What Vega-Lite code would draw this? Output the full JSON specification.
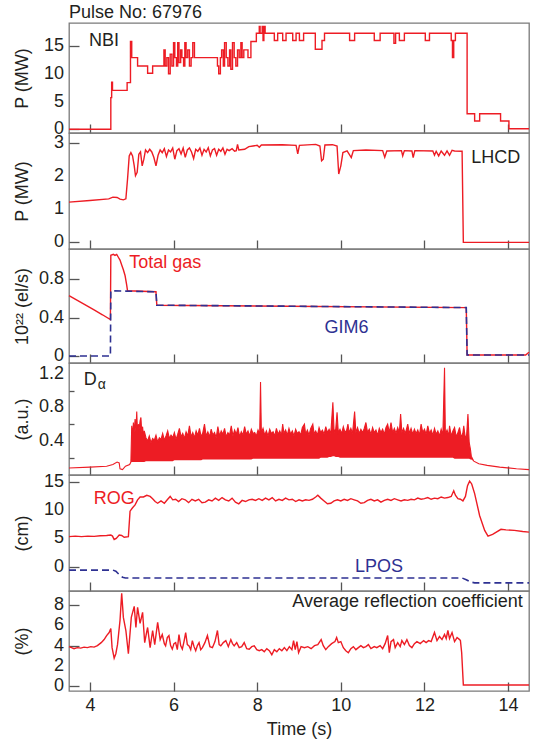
{
 "$schema": "https://vega.github.io/schema/vega-lite/v6.json",
 "padding": {"left": 12, "top": 4, "right": 6, "bottom": 4},
 "title": {"text": "Pulse No: 67976", "anchor": "start", "frame": "group", "fontSize": 18, "font": "Liberation Sans", "fontWeight": "normal", "color": "#231f20", "offset": 0},
 "spacing": 0,
 "bounds": "flush",
 "datasets": {
  "nbi": [
   {"t":3.5,"p":0},{"t":4.5,"p":5.7},{"t":4.52,"p":8.5},{"t":4.54,"p":7.0},{"t":4.89,"p":8.4},{"t":4.97,"p":15.8},{"t":5.0,"p":12.9},{"t":5.14,"p":11.4},{"t":5.38,"p":10.1},{"t":5.5,"p":11.4},
   {"t":5.77,"p":14.3},{"t":5.8,"p":11.4},{"t":5.84,"p":12.9},{"t":5.88,"p":10.0},{"t":5.92,"p":13.5},{"t":5.96,"p":11.4},{"t":6.0,"p":15.6},{"t":6.03,"p":12.9},{"t":6.07,"p":11.4},{"t":6.1,"p":15.6},
   {"t":6.13,"p":12.0},{"t":6.17,"p":14.3},{"t":6.2,"p":12.9},{"t":6.24,"p":11.4},{"t":6.27,"p":15.6},{"t":6.3,"p":12.9},{"t":6.34,"p":14.3},{"t":6.38,"p":11.4},{"t":6.42,"p":12.9},{"t":6.46,"p":15.6},
   {"t":6.5,"p":12.9},{"t":7.05,"p":11.4},{"t":7.08,"p":10.0},{"t":7.12,"p":12.9},{"t":7.15,"p":14.3},{"t":7.19,"p":11.4},{"t":7.22,"p":15.6},{"t":7.26,"p":12.9},{"t":7.3,"p":11.4},{"t":7.34,"p":14.3},
   {"t":7.37,"p":10.8},{"t":7.41,"p":15.6},{"t":7.45,"p":12.9},{"t":7.49,"p":11.4},{"t":7.53,"p":14.3},{"t":7.57,"p":12.9},{"t":7.61,"p":15.6},{"t":7.64,"p":12.9},{"t":7.68,"p":14.3},{"t":7.78,"p":12.9},
   {"t":7.85,"p":15.8},{"t":7.98,"p":17.3},{"t":8.05,"p":18.5},{"t":8.07,"p":17.3},{"t":8.12,"p":18.5},{"t":8.14,"p":16.0},{"t":8.16,"p":18.5},{"t":8.19,"p":17.3},{"t":8.41,"p":16.0},{"t":8.49,"p":17.3},
   {"t":8.61,"p":16.0},{"t":8.69,"p":17.3},{"t":8.85,"p":16.0},{"t":8.93,"p":17.3},{"t":9.01,"p":16.0},{"t":9.11,"p":17.3},{"t":9.39,"p":14.4},{"t":9.55,"p":16.0},{"t":9.61,"p":17.3},{"t":10.21,"p":16.0},
   {"t":10.33,"p":17.3},{"t":10.8,"p":16.0},{"t":10.94,"p":17.3},{"t":11.27,"p":15.5},{"t":11.31,"p":17.3},{"t":11.4,"p":16.0},{"t":11.52,"p":17.3},{"t":12.02,"p":16.0},{"t":12.12,"p":17.3},{"t":12.64,"p":16.0},
   {"t":12.67,"p":12.9},{"t":12.7,"p":16.0},{"t":12.74,"p":17.3},{"t":13.02,"p":2.8},{"t":13.2,"p":1.5},{"t":13.32,"p":2.8},{"t":13.82,"p":1.5},{"t":14.02,"p":0.1},{"t":14.5,"p":0.1}
  ],
  "lhcd": [
   {"t":3.5,"p":1.2},{"t":4.0,"p":1.25},{"t":4.45,"p":1.3},{"t":4.55,"p":1.35},{"t":4.65,"p":1.34},{"t":4.72,"p":1.29},{"t":4.8,"p":1.27},{"t":4.86,"p":1.3},{"t":4.9,"p":1.9},{"t":4.94,"p":2.6},
   {"t":4.98,"p":2.7},{"t":5.02,"p":2.6},{"t":5.06,"p":2.3},{"t":5.09,"p":2.0},{"t":5.13,"p":2.1},{"t":5.17,"p":2.65},{"t":5.21,"p":2.72},{"t":5.25,"p":2.3},{"t":5.29,"p":2.5},{"t":5.33,"p":2.78},
   {"t":5.38,"p":2.7},{"t":5.43,"p":2.8},{"t":5.48,"p":2.72},{"t":5.53,"p":2.55},{"t":5.58,"p":2.3},{"t":5.63,"p":2.62},{"t":5.68,"p":2.78},{"t":5.73,"p":2.7},{"t":5.78,"p":2.82},{"t":5.83,"p":2.58},
   {"t":5.88,"p":2.78},{"t":5.93,"p":2.72},{"t":5.98,"p":2.84},{"t":6.03,"p":2.5},{"t":6.08,"p":2.76},{"t":6.13,"p":2.82},{"t":6.18,"p":2.66},{"t":6.23,"p":2.84},{"t":6.28,"p":2.56},{"t":6.33,"p":2.78},
   {"t":6.38,"p":2.84},{"t":6.43,"p":2.72},{"t":6.48,"p":2.52},{"t":6.53,"p":2.8},{"t":6.58,"p":2.74},{"t":6.63,"p":2.84},{"t":6.68,"p":2.62},{"t":6.73,"p":2.8},{"t":6.78,"p":2.72},{"t":6.83,"p":2.85},
   {"t":6.88,"p":2.6},{"t":6.93,"p":2.78},{"t":6.98,"p":2.82},{"t":7.03,"p":2.62},{"t":7.08,"p":2.8},{"t":7.13,"p":2.74},{"t":7.18,"p":2.84},{"t":7.23,"p":2.65},{"t":7.28,"p":2.8},{"t":7.33,"p":2.76},
   {"t":7.4,"p":2.82},{"t":7.46,"p":2.74},{"t":7.5,"p":2.76},{"t":7.53,"p":2.95},{"t":7.56,"p":2.78},{"t":7.7,"p":2.8},{"t":7.8,"p":2.88},{"t":7.9,"p":2.9},{"t":8.0,"p":2.92},{"t":8.05,"p":2.86},
   {"t":8.1,"p":2.93},{"t":8.6,"p":2.94},{"t":8.93,"p":2.92},{"t":8.97,"p":2.66},{"t":9.01,"p":2.92},{"t":9.4,"p":2.95},{"t":9.5,"p":2.9},{"t":9.54,"p":2.45},{"t":9.58,"p":2.5},{"t":9.62,"p":2.93},
   {"t":9.8,"p":2.94},{"t":9.91,"p":2.9},{"t":9.95,"p":2.05},{"t":10.0,"p":2.3},{"t":10.05,"p":2.7},{"t":10.15,"p":2.75},{"t":10.25,"p":2.55},{"t":10.3,"p":2.76},{"t":10.6,"p":2.78},{"t":11.0,"p":2.76},
   {"t":11.05,"p":2.56},{"t":11.1,"p":2.75},{"t":11.45,"p":2.76},{"t":11.48,"p":2.6},{"t":11.52,"p":2.76},{"t":11.7,"p":2.75},{"t":11.73,"p":2.55},{"t":11.77,"p":2.76},{"t":12.2,"p":2.75},{"t":12.24,"p":2.62},
   {"t":12.28,"p":2.74},{"t":12.34,"p":2.6},{"t":12.4,"p":2.75},{"t":12.48,"p":2.62},{"t":12.54,"p":2.75},{"t":12.6,"p":2.62},{"t":12.66,"p":2.77},{"t":12.72,"p":2.75},{"t":12.9,"p":2.74},{"t":12.93,"p":-0.02},
   {"t":14.5,"p":-0.02}
  ],
  "gas": [
   {"t":3.5,"v":0.63},{"t":3.7,"v":0.58},{"t":3.9,"v":0.53},{"t":4.1,"v":0.48},{"t":4.3,"v":0.43},{"t":4.49,"v":0.38},{"t":4.5,"v":1.05},{"t":4.56,"v":1.06},{"t":4.6,"v":1.05},{"t":4.64,"v":1.06},
   {"t":4.68,"v":1.03},{"t":4.72,"v":1.0},{"t":4.76,"v":0.95},{"t":4.8,"v":0.9},{"t":4.84,"v":0.84},{"t":4.88,"v":0.74},{"t":4.9,"v":0.68},{"t":5.58,"v":0.67},{"t":5.6,"v":0.53},{"t":13.0,"v":0.505},
   {"t":13.02,"v":0.01},{"t":14.42,"v":0.01},{"t":14.5,"v":0.04}
  ],
  "gim": [
   {"t":3.5,"v":0.0},{"t":4.49,"v":0.0},{"t":4.5,"v":0.68},{"t":5.58,"v":0.67},{"t":5.6,"v":0.53},{"t":13.0,"v":0.505},{"t":13.02,"v":0.01},{"t":14.5,"v":0.01}
  ],
  "da": [
   {"t":3.5,"lo":0.08,"hi":0.08},{"t":4.0,"lo":0.09,"hi":0.09},{"t":4.4,"lo":0.1,"hi":0.1},{"t":4.55,"lo":0.12,"hi":0.12},{"t":4.65,"lo":0.15,"hi":0.15},{"t":4.7,"lo":0.14,"hi":0.14},{"t":4.72,"lo":0.07,"hi":0.07},{"t":4.78,"lo":0.06,"hi":0.06},{"t":4.85,"lo":0.1,"hi":0.1},{"t":4.95,"lo":0.12,"hi":0.12},
   {"t":4.98,"lo":0.15,"hi":0.15},
   {"t":5.0,"lo":0.15,"hi":0.58},{"t":5.02,"lo":0.15,"hi":0.45},{"t":5.04,"lo":0.15,"hi":0.62},{"t":5.06,"lo":0.15,"hi":0.5},{"t":5.08,"lo":0.15,"hi":0.66},{"t":5.1,"lo":0.15,"hi":0.52},{"t":5.12,"lo":0.15,"hi":0.75},{"t":5.14,"lo":0.15,"hi":0.48},{"t":5.16,"lo":0.15,"hi":0.6},{"t":5.18,"lo":0.15,"hi":0.55},
   {"t":5.2,"lo":0.15,"hi":0.64},{"t":5.22,"lo":0.15,"hi":0.68},{"t":5.24,"lo":0.15,"hi":0.5},{"t":5.26,"lo":0.15,"hi":0.57},{"t":5.28,"lo":0.15,"hi":0.46},{"t":5.3,"lo":0.15,"hi":0.52},{"t":5.34,"lo":0.16,"hi":0.44},{"t":5.38,"lo":0.16,"hi":0.4},{"t":5.42,"lo":0.16,"hi":0.46},{"t":5.46,"lo":0.16,"hi":0.38},
   {"t":5.5,"lo":0.16,"hi":0.43},{"t":5.54,"lo":0.16,"hi":0.41},{"t":5.58,"lo":0.16,"hi":0.47},{"t":5.62,"lo":0.16,"hi":0.39},{"t":5.66,"lo":0.16,"hi":0.44},{"t":5.7,"lo":0.16,"hi":0.42},{"t":5.74,"lo":0.16,"hi":0.49},{"t":5.78,"lo":0.16,"hi":0.41},{"t":5.82,"lo":0.16,"hi":0.46},{"t":5.86,"lo":0.16,"hi":0.52},
   {"t":5.9,"lo":0.16,"hi":0.43},{"t":5.94,"lo":0.16,"hi":0.47},{"t":5.98,"lo":0.16,"hi":0.44},{"t":6.02,"lo":0.17,"hi":0.5},{"t":6.06,"lo":0.17,"hi":0.42},{"t":6.1,"lo":0.17,"hi":0.48},{"t":6.14,"lo":0.17,"hi":0.55},{"t":6.18,"lo":0.17,"hi":0.45},{"t":6.22,"lo":0.17,"hi":0.49},{"t":6.26,"lo":0.17,"hi":0.43},
   {"t":6.3,"lo":0.17,"hi":0.51},{"t":6.34,"lo":0.17,"hi":0.46},{"t":6.38,"lo":0.17,"hi":0.58},{"t":6.42,"lo":0.17,"hi":0.45},{"t":6.46,"lo":0.17,"hi":0.5},{"t":6.5,"lo":0.17,"hi":0.44},{"t":6.54,"lo":0.17,"hi":0.52},{"t":6.58,"lo":0.17,"hi":0.47},{"t":6.62,"lo":0.17,"hi":0.55},{"t":6.66,"lo":0.17,"hi":0.45},
   {"t":6.7,"lo":0.18,"hi":0.5},{"t":6.74,"lo":0.18,"hi":0.6},{"t":6.78,"lo":0.18,"hi":0.46},{"t":6.82,"lo":0.18,"hi":0.51},{"t":6.86,"lo":0.18,"hi":0.45},{"t":6.9,"lo":0.18,"hi":0.54},{"t":6.94,"lo":0.18,"hi":0.47},{"t":6.98,"lo":0.18,"hi":0.5},{"t":7.02,"lo":0.18,"hi":0.44},{"t":7.06,"lo":0.18,"hi":0.57},
   {"t":7.1,"lo":0.18,"hi":0.46},{"t":7.14,"lo":0.18,"hi":0.52},{"t":7.18,"lo":0.18,"hi":0.48},{"t":7.22,"lo":0.18,"hi":0.55},{"t":7.26,"lo":0.18,"hi":0.45},{"t":7.3,"lo":0.18,"hi":0.5},{"t":7.34,"lo":0.18,"hi":0.47},{"t":7.38,"lo":0.18,"hi":0.58},{"t":7.42,"lo":0.18,"hi":0.46},{"t":7.46,"lo":0.18,"hi":0.53},
   {"t":7.5,"lo":0.18,"hi":0.48},{"t":7.54,"lo":0.18,"hi":0.56},{"t":7.58,"lo":0.18,"hi":0.45},{"t":7.62,"lo":0.18,"hi":0.51},{"t":7.66,"lo":0.18,"hi":0.47},{"t":7.7,"lo":0.18,"hi":0.57},{"t":7.74,"lo":0.18,"hi":0.48},{"t":7.78,"lo":0.18,"hi":0.52},{"t":7.82,"lo":0.18,"hi":0.46},{"t":7.86,"lo":0.18,"hi":0.54},
   {"t":7.9,"lo":0.19,"hi":0.49},{"t":7.94,"lo":0.19,"hi":0.5},{"t":7.98,"lo":0.19,"hi":0.46},{"t":8.02,"lo":0.19,"hi":0.53},{"t":8.06,"lo":0.19,"hi":0.48},{"t":8.08,"lo":0.19,"hi":1.1},{"t":8.1,"lo":0.19,"hi":0.5},{"t":8.14,"lo":0.19,"hi":0.55},{"t":8.18,"lo":0.19,"hi":0.47},{"t":8.22,"lo":0.19,"hi":0.52},
   {"t":8.26,"lo":0.19,"hi":0.46},{"t":8.3,"lo":0.19,"hi":0.54},{"t":8.34,"lo":0.19,"hi":0.49},{"t":8.38,"lo":0.19,"hi":0.51},{"t":8.42,"lo":0.19,"hi":0.46},{"t":8.46,"lo":0.19,"hi":0.55},{"t":8.5,"lo":0.19,"hi":0.48},{"t":8.54,"lo":0.19,"hi":0.52},{"t":8.58,"lo":0.19,"hi":0.47},{"t":8.61,"lo":0.19,"hi":0.6},
   {"t":8.64,"lo":0.19,"hi":0.49},{"t":8.68,"lo":0.19,"hi":0.53},{"t":8.72,"lo":0.19,"hi":0.47},{"t":8.76,"lo":0.19,"hi":0.55},{"t":8.8,"lo":0.19,"hi":0.48},{"t":8.84,"lo":0.19,"hi":0.52},{"t":8.88,"lo":0.19,"hi":0.46},{"t":8.92,"lo":0.19,"hi":0.54},{"t":8.96,"lo":0.19,"hi":0.49},{"t":9.0,"lo":0.19,"hi":0.51},
   {"t":9.04,"lo":0.19,"hi":0.47},{"t":9.08,"lo":0.19,"hi":0.56},{"t":9.13,"lo":0.19,"hi":0.6},{"t":9.16,"lo":0.19,"hi":0.48},{"t":9.2,"lo":0.19,"hi":0.53},{"t":9.24,"lo":0.19,"hi":0.47},{"t":9.28,"lo":0.19,"hi":0.55},{"t":9.33,"lo":0.19,"hi":0.6},{"t":9.36,"lo":0.19,"hi":0.49},{"t":9.4,"lo":0.19,"hi":0.52},
   {"t":9.44,"lo":0.19,"hi":0.47},{"t":9.48,"lo":0.19,"hi":0.56},{"t":9.52,"lo":0.2,"hi":0.5},{"t":9.56,"lo":0.2,"hi":0.53},{"t":9.6,"lo":0.2,"hi":0.48},{"t":9.64,"lo":0.2,"hi":0.57},{"t":9.68,"lo":0.2,"hi":0.5},{"t":9.72,"lo":0.21,"hi":0.54},{"t":9.76,"lo":0.21,"hi":0.49},{"t":9.81,"lo":0.22,"hi":0.86},
   {"t":9.84,"lo":0.22,"hi":0.5},{"t":9.88,"lo":0.21,"hi":0.55},{"t":9.91,"lo":0.21,"hi":0.74},{"t":9.94,"lo":0.21,"hi":0.5},{"t":9.98,"lo":0.2,"hi":0.54},{"t":10.02,"lo":0.2,"hi":0.49},{"t":10.06,"lo":0.2,"hi":0.57},{"t":10.1,"lo":0.2,"hi":0.5},{"t":10.14,"lo":0.2,"hi":0.53},{"t":10.17,"lo":0.2,"hi":0.6},
   {"t":10.2,"lo":0.2,"hi":0.5},{"t":10.24,"lo":0.2,"hi":0.55},{"t":10.28,"lo":0.2,"hi":0.49},{"t":10.33,"lo":0.2,"hi":0.75},{"t":10.36,"lo":0.2,"hi":0.5},{"t":10.4,"lo":0.2,"hi":0.56},{"t":10.44,"lo":0.2,"hi":0.49},{"t":10.48,"lo":0.2,"hi":0.54},{"t":10.52,"lo":0.2,"hi":0.5},{"t":10.56,"lo":0.2,"hi":0.55},
   {"t":10.6,"lo":0.2,"hi":0.62},{"t":10.64,"lo":0.2,"hi":0.5},{"t":10.68,"lo":0.2,"hi":0.54},{"t":10.72,"lo":0.2,"hi":0.48},{"t":10.76,"lo":0.2,"hi":0.56},{"t":10.8,"lo":0.2,"hi":0.5},{"t":10.84,"lo":0.2,"hi":0.53},{"t":10.88,"lo":0.2,"hi":0.47},{"t":10.92,"lo":0.2,"hi":0.55},{"t":10.96,"lo":0.2,"hi":0.5},
   {"t":11.0,"lo":0.2,"hi":0.54},{"t":11.04,"lo":0.2,"hi":0.48},{"t":11.08,"lo":0.2,"hi":0.56},{"t":11.12,"lo":0.2,"hi":0.6},{"t":11.16,"lo":0.2,"hi":0.5},{"t":11.2,"lo":0.2,"hi":0.62},{"t":11.24,"lo":0.2,"hi":0.5},{"t":11.28,"lo":0.2,"hi":0.55},{"t":11.32,"lo":0.2,"hi":0.49},{"t":11.36,"lo":0.2,"hi":0.56},
   {"t":11.4,"lo":0.2,"hi":0.5},{"t":11.43,"lo":0.2,"hi":0.72},{"t":11.46,"lo":0.2,"hi":0.5},{"t":11.5,"lo":0.2,"hi":0.55},{"t":11.54,"lo":0.2,"hi":0.49},{"t":11.58,"lo":0.2,"hi":0.56},{"t":11.6,"lo":0.2,"hi":0.6},{"t":11.64,"lo":0.2,"hi":0.49},{"t":11.68,"lo":0.2,"hi":0.55},{"t":11.72,"lo":0.2,"hi":0.48},
   {"t":11.76,"lo":0.2,"hi":0.54},{"t":11.8,"lo":0.2,"hi":0.49},{"t":11.84,"lo":0.2,"hi":0.53},{"t":11.88,"lo":0.2,"hi":0.47},{"t":11.92,"lo":0.2,"hi":0.6},{"t":11.96,"lo":0.2,"hi":0.5},{"t":12.0,"lo":0.2,"hi":0.54},{"t":12.04,"lo":0.2,"hi":0.48},{"t":12.08,"lo":0.2,"hi":0.58},{"t":12.12,"lo":0.2,"hi":0.49},
   {"t":12.16,"lo":0.2,"hi":0.53},{"t":12.2,"lo":0.2,"hi":0.47},{"t":12.24,"lo":0.2,"hi":0.55},{"t":12.28,"lo":0.2,"hi":0.48},{"t":12.32,"lo":0.2,"hi":0.52},{"t":12.36,"lo":0.2,"hi":0.46},{"t":12.4,"lo":0.2,"hi":0.54},{"t":12.44,"lo":0.2,"hi":0.47},{"t":12.48,"lo":0.2,"hi":1.27},{"t":12.5,"lo":0.2,"hi":0.48},
   {"t":12.54,"lo":0.2,"hi":0.53},{"t":12.58,"lo":0.2,"hi":0.46},{"t":12.6,"lo":0.2,"hi":0.58},{"t":12.64,"lo":0.2,"hi":0.46},{"t":12.68,"lo":0.2,"hi":0.52},{"t":12.72,"lo":0.19,"hi":0.56},{"t":12.76,"lo":0.19,"hi":0.45},{"t":12.8,"lo":0.19,"hi":0.5},{"t":12.84,"lo":0.19,"hi":0.56},{"t":12.88,"lo":0.19,"hi":0.44},
   {"t":12.92,"lo":0.19,"hi":0.5},{"t":12.94,"lo":0.19,"hi":0.58},{"t":12.98,"lo":0.19,"hi":0.42},{"t":13.01,"lo":0.19,"hi":0.48},{"t":13.04,"lo":0.19,"hi":0.72},{"t":13.07,"lo":0.19,"hi":0.38},{"t":13.1,"lo":0.18,"hi":0.3},{"t":13.12,"lo":0.18,"hi":0.22},
   {"t":13.18,"lo":0.16,"hi":0.16},{"t":13.3,"lo":0.13,"hi":0.13},{"t":13.5,"lo":0.11,"hi":0.11},{"t":13.8,"lo":0.09,"hi":0.09},{"t":14.2,"lo":0.07,"hi":0.07},{"t":14.5,"lo":0.06,"hi":0.06}
  ],
  "rog": [
   {"t":3.5,"v":5.3},{"t":3.65,"v":5.4},{"t":3.8,"v":5.3},{"t":3.95,"v":5.4},{"t":4.1,"v":5.35},{"t":4.25,"v":5.45},{"t":4.4,"v":5.5},{"t":4.5,"v":5.6},{"t":4.54,"v":5.4},{"t":4.58,"v":4.8},
   {"t":4.63,"v":5.0},{"t":4.7,"v":5.6},{"t":4.76,"v":5.5},{"t":4.82,"v":5.2},{"t":4.92,"v":5.3},{"t":4.96,"v":9.8},{"t":5.02,"v":10.4},{"t":5.08,"v":10.9},{"t":5.14,"v":11.8},{"t":5.2,"v":12.3},
   {"t":5.28,"v":12.3},{"t":5.36,"v":12.6},{"t":5.44,"v":12.4},{"t":5.5,"v":12.0},{"t":5.56,"v":11.5},{"t":5.62,"v":11.2},{"t":5.7,"v":11.6},{"t":5.78,"v":11.2},{"t":5.86,"v":11.9},{"t":5.92,"v":12.4},
   {"t":5.98,"v":11.8},{"t":6.05,"v":11.9},{"t":6.12,"v":11.5},{"t":6.2,"v":12.0},{"t":6.28,"v":11.8},{"t":6.36,"v":11.3},{"t":6.44,"v":11.9},{"t":6.52,"v":11.6},{"t":6.6,"v":11.9},{"t":6.68,"v":11.3},
   {"t":6.76,"v":11.4},{"t":6.84,"v":11.8},{"t":6.92,"v":11.6},{"t":7.0,"v":12.1},{"t":7.08,"v":11.7},{"t":7.16,"v":12.2},{"t":7.24,"v":11.8},{"t":7.32,"v":11.6},{"t":7.4,"v":12.1},{"t":7.48,"v":11.4},
   {"t":7.56,"v":11.1},{"t":7.64,"v":11.7},{"t":7.72,"v":11.5},{"t":7.8,"v":11.8},{"t":7.88,"v":11.9},{"t":7.96,"v":11.7},{"t":8.04,"v":12.0},{"t":8.12,"v":11.7},{"t":8.2,"v":12.1},{"t":8.28,"v":11.8},
   {"t":8.36,"v":12.2},{"t":8.44,"v":11.6},{"t":8.52,"v":11.9},{"t":8.6,"v":11.7},{"t":8.68,"v":12.1},{"t":8.76,"v":11.8},{"t":8.84,"v":11.9},{"t":8.92,"v":11.5},{"t":9.0,"v":11.8},{"t":9.08,"v":11.6},
   {"t":9.16,"v":11.8},{"t":9.24,"v":11.7},{"t":9.32,"v":11.9},{"t":9.4,"v":12.3},{"t":9.45,"v":12.6},{"t":9.52,"v":12.1},{"t":9.6,"v":11.6},{"t":9.68,"v":11.1},{"t":9.76,"v":11.2},{"t":9.84,"v":11.6},
   {"t":9.92,"v":11.8},{"t":10.0,"v":11.6},{"t":10.08,"v":11.9},{"t":10.16,"v":11.7},{"t":10.24,"v":12.0},{"t":10.32,"v":11.8},{"t":10.4,"v":11.6},{"t":10.48,"v":11.2},{"t":10.56,"v":11.3},{"t":10.64,"v":11.7},
   {"t":10.72,"v":11.9},{"t":10.8,"v":11.6},{"t":10.88,"v":11.8},{"t":10.96,"v":11.4},{"t":11.04,"v":11.7},{"t":11.12,"v":11.9},{"t":11.2,"v":11.7},{"t":11.28,"v":12.0},{"t":11.36,"v":11.8},{"t":11.44,"v":11.6},
   {"t":11.52,"v":11.8},{"t":11.6,"v":11.7},{"t":11.68,"v":11.9},{"t":11.76,"v":11.8},{"t":11.84,"v":12.1},{"t":11.92,"v":11.9},{"t":12.0,"v":12.0},{"t":12.08,"v":12.2},{"t":12.16,"v":11.9},{"t":12.24,"v":12.1},
   {"t":12.32,"v":12.0},{"t":12.4,"v":12.3},{"t":12.48,"v":12.1},{"t":12.56,"v":12.2},{"t":12.64,"v":12.4},{"t":12.7,"v":13.4},{"t":12.74,"v":12.6},{"t":12.8,"v":12.0},{"t":12.86,"v":11.9},{"t":12.92,"v":11.6},
   {"t":12.98,"v":12.4},{"t":13.03,"v":14.3},{"t":13.08,"v":15.1},{"t":13.13,"v":14.6},{"t":13.2,"v":12.9},{"t":13.32,"v":9.0},{"t":13.44,"v":6.4},{"t":13.52,"v":5.4},{"t":13.63,"v":5.7},{"t":13.83,"v":6.6},
   {"t":13.95,"v":6.5},{"t":14.15,"v":6.4},{"t":14.35,"v":6.2},{"t":14.5,"v":6.1}
  ],
  "lpos": [
   {"t":3.5,"v":-0.6},{"t":4.55,"v":-0.6},{"t":4.62,"v":-0.8},{"t":4.7,"v":-1.4},{"t":4.78,"v":-1.85},{"t":4.85,"v":-2.0},{"t":12.9,"v":-2.0},{"t":13.0,"v":-2.3},{"t":13.1,"v":-2.7},{"t":13.2,"v":-2.85},{"t":14.5,"v":-2.85}
  ],
  "refl": [
   {"t":3.5,"v":3.9},{"t":3.56,"v":3.8},{"t":3.62,"v":3.7},{"t":3.7,"v":3.8},{"t":3.78,"v":3.75},{"t":3.86,"v":3.85},{"t":3.94,"v":3.8},{"t":4.02,"v":3.9},{"t":4.1,"v":3.85},{"t":4.18,"v":4.0},
   {"t":4.27,"v":4.3},{"t":4.34,"v":4.6},{"t":4.4,"v":5.0},{"t":4.46,"v":5.3},{"t":4.5,"v":5.7},{"t":4.53,"v":3.8},{"t":4.58,"v":2.75},{"t":4.62,"v":3.2},{"t":4.66,"v":4.1},{"t":4.72,"v":6.5},
   {"t":4.76,"v":9.2},{"t":4.8,"v":6.8},{"t":4.86,"v":5.5},{"t":4.92,"v":3.2},{"t":4.99,"v":6.8},{"t":5.06,"v":7.9},{"t":5.1,"v":5.8},{"t":5.14,"v":7.8},{"t":5.2,"v":6.2},{"t":5.26,"v":7.3},
   {"t":5.31,"v":4.3},{"t":5.35,"v":5.2},{"t":5.38,"v":5.8},{"t":5.44,"v":3.8},{"t":5.5,"v":5.5},{"t":5.55,"v":4.1},{"t":5.62,"v":6.3},{"t":5.68,"v":4.6},{"t":5.73,"v":5.1},{"t":5.78,"v":4.2},
   {"t":5.81,"v":3.98},{"t":5.85,"v":4.8},{"t":5.89,"v":5.0},{"t":5.93,"v":4.0},{"t":5.97,"v":3.65},{"t":6.01,"v":4.2},{"t":6.05,"v":4.3},{"t":6.09,"v":3.6},{"t":6.13,"v":5.1},{"t":6.17,"v":4.0},
   {"t":6.21,"v":3.65},{"t":6.25,"v":4.4},{"t":6.29,"v":5.3},{"t":6.33,"v":4.1},{"t":6.37,"v":3.98},{"t":6.41,"v":3.6},{"t":6.45,"v":4.5},{"t":6.49,"v":3.9},{"t":6.53,"v":3.5},{"t":6.57,"v":4.0},
   {"t":6.61,"v":4.3},{"t":6.65,"v":3.6},{"t":6.69,"v":3.8},{"t":6.75,"v":4.3},{"t":6.81,"v":5.0},{"t":6.87,"v":3.9},{"t":6.93,"v":3.8},{"t":6.99,"v":4.4},{"t":7.05,"v":5.5},{"t":7.09,"v":4.1},
   {"t":7.13,"v":3.98},{"t":7.19,"v":4.3},{"t":7.25,"v":4.5},{"t":7.31,"v":3.9},{"t":7.37,"v":4.6},{"t":7.41,"v":4.2},{"t":7.45,"v":3.98},{"t":7.51,"v":4.3},{"t":7.57,"v":3.8},{"t":7.63,"v":3.9},
   {"t":7.69,"v":4.3},{"t":7.75,"v":3.7},{"t":7.81,"v":3.65},{"t":7.87,"v":3.9},{"t":7.93,"v":3.98},{"t":7.99,"v":3.6},{"t":8.05,"v":3.5},{"t":8.11,"v":3.6},{"t":8.17,"v":3.4},{"t":8.23,"v":3.7},
   {"t":8.29,"v":3.5},{"t":8.35,"v":3.1},{"t":8.41,"v":3.6},{"t":8.47,"v":3.4},{"t":8.53,"v":3.7},{"t":8.59,"v":3.5},{"t":8.65,"v":3.8},{"t":8.71,"v":3.5},{"t":8.77,"v":3.9},{"t":8.83,"v":3.6},
   {"t":8.87,"v":4.5},{"t":8.91,"v":3.6},{"t":8.95,"v":4.4},{"t":8.99,"v":3.3},{"t":9.05,"v":3.9},{"t":9.13,"v":3.8},{"t":9.21,"v":3.9},{"t":9.29,"v":3.7},{"t":9.37,"v":4.0},{"t":9.45,"v":4.1},
   {"t":9.53,"v":4.6},{"t":9.58,"v":4.0},{"t":9.64,"v":3.6},{"t":9.7,"v":3.9},{"t":9.78,"v":4.2},{"t":9.86,"v":4.4},{"t":9.9,"v":4.8},{"t":9.94,"v":4.3},{"t":10.0,"v":4.4},{"t":10.06,"v":3.8},
   {"t":10.12,"v":3.5},{"t":10.18,"v":3.3},{"t":10.24,"v":3.7},{"t":10.3,"v":3.9},{"t":10.36,"v":3.6},{"t":10.42,"v":3.8},{"t":10.48,"v":4.0},{"t":10.54,"v":3.8},{"t":10.6,"v":3.9},{"t":10.66,"v":4.1},
   {"t":10.72,"v":3.7},{"t":10.8,"v":3.9},{"t":10.86,"v":3.8},{"t":10.94,"v":4.0},{"t":11.0,"v":3.7},{"t":11.06,"v":4.2},{"t":11.12,"v":5.0},{"t":11.16,"v":3.3},{"t":11.2,"v":4.4},{"t":11.26,"v":4.6},
   {"t":11.3,"v":3.8},{"t":11.36,"v":4.3},{"t":11.42,"v":3.9},{"t":11.46,"v":4.5},{"t":11.52,"v":4.1},{"t":11.58,"v":4.6},{"t":11.64,"v":4.0},{"t":11.7,"v":3.8},{"t":11.76,"v":4.2},{"t":11.82,"v":4.4},
   {"t":11.9,"v":4.2},{"t":11.98,"v":4.5},{"t":12.04,"v":4.3},{"t":12.1,"v":4.5},{"t":12.16,"v":4.4},{"t":12.24,"v":5.3},{"t":12.3,"v":4.5},{"t":12.36,"v":4.9},{"t":12.42,"v":4.6},{"t":12.48,"v":5.1},
   {"t":12.52,"v":4.7},{"t":12.56,"v":5.5},{"t":12.6,"v":4.7},{"t":12.66,"v":5.3},{"t":12.72,"v":4.4},{"t":12.78,"v":4.8},{"t":12.84,"v":4.6},{"t":12.86,"v":4.5},{"t":12.89,"v":3.3},{"t":12.93,"v":0.1},
   {"t":14.5,"v":0.1}
  ]
 },
 "vconcat": [
  {
   "width": 460, "height": 110,
   "layer": [
    {"data": {"name": "nbi"}, "mark": {"type": "line", "interpolate": "step-after", "color": "#ed1c24", "strokeWidth": 1.4},
     "encoding": {
      "x": {"field": "t", "type": "quantitative", "scale": {"domain": [3.5, 14.5], "nice": false, "zero": false}, "axis": {"title": null, "labels": false, "values": [4,6,8,10,12,14], "tickSize": -9}},
      "y": {"field": "p", "type": "quantitative", "scale": {"domain": [-0.67, 19.14], "nice": false, "zero": false}, "axis": {"title": "P (MW)", "values": [0,5,10,15], "labels": false, "tickSize": -10, "titleX": -38}}}},
    {"data": {"values": [{"tick":0,"lbl":"0"},{"tick":5,"lbl":"5"},{"tick":10,"lbl":"10"},{"tick":15,"lbl":"15"}]}, "mark": {"type": "text", "align": "right", "baseline": "middle", "dx": -5, "fontSize": 18, "font": "Liberation Sans", "color": "#231f20"},
     "encoding": {"x": {"datum": 3.5, "type": "quantitative"}, "y": {"field": "tick", "type": "quantitative"}, "text": {"field": "lbl", "type": "nominal"}}},
    {"data": {"values": [{}]}, "mark": {"type": "text", "text": "NBI", "align": "left", "baseline": "middle", "fontSize": 18, "font": "Liberation Sans", "color": "#231f20"},
     "encoding": {"x": {"datum": 3.98, "type": "quantitative"}, "y": {"datum": 15.9, "type": "quantitative"}}}
   ]
  },
  {
   "width": 460, "height": 116,
   "layer": [
    {"data": {"name": "lhcd"}, "mark": {"type": "line", "color": "#ed1c24", "strokeWidth": 1.4},
     "encoding": {
      "x": {"field": "t", "type": "quantitative", "scale": {"domain": [3.5, 14.5], "nice": false, "zero": false}, "axis": {"title": null, "labels": false, "values": [4,6,8,10,12,14], "tickSize": -9}},
      "y": {"field": "p", "type": "quantitative", "scale": {"domain": [-0.22, 3.294], "nice": false, "zero": false}, "axis": {"title": "P (MW)", "values": [0,0.5,1,1.5,2,2.5,3], "labels": false, "tickSize": {"condition": {"test": "datum.value % 1 != 0", "value": -5}, "value": -10}, "titleX": -38}}}},
    {"data": {"values": [{"tick":0,"lbl":"0"},{"tick":1,"lbl":"1"},{"tick":2,"lbl":"2"},{"tick":3,"lbl":"3"}]}, "mark": {"type": "text", "align": "right", "baseline": "middle", "dx": -5, "fontSize": 18, "font": "Liberation Sans", "color": "#231f20"},
     "encoding": {"x": {"datum": 3.5, "type": "quantitative"}, "y": {"field": "tick", "type": "quantitative"}, "text": {"field": "lbl", "type": "nominal"}}},
    {"data": {"values": [{}]}, "mark": {"type": "text", "text": "LHCD", "align": "left", "baseline": "middle", "fontSize": 18, "font": "Liberation Sans", "color": "#231f20"},
     "encoding": {"x": {"datum": 13.12, "type": "quantitative"}, "y": {"datum": 2.55, "type": "quantitative"}}}
   ]
  },
  {
   "width": 460, "height": 114,
   "layer": [
    {"data": {"name": "gas"}, "mark": {"type": "line", "color": "#ed1c24", "strokeWidth": 1.4},
     "encoding": {
      "x": {"field": "t", "type": "quantitative", "scale": {"domain": [3.5, 14.5], "nice": false, "zero": false}, "axis": {"title": null, "labels": false, "values": [4,6,8,10,12,14], "tickSize": -9}},
      "y": {"field": "v", "type": "quantitative", "scale": {"domain": [-0.073, 1.116], "nice": false, "zero": false}, "axis": {"title": "10²² (el/s)", "values": [0,0.2,0.4,0.6,0.8,1.0], "labels": false, "tickSize": {"condition": {"test": "round(datum.value*10) % 4 != 0", "value": -5}, "value": -10}, "titleX": -38}}}},
    {"data": {"name": "gim"}, "mark": {"type": "line", "color": "#2e3192", "strokeWidth": 1.6, "strokeDash": [7, 4]},
     "encoding": {"x": {"field": "t", "type": "quantitative"}, "y": {"field": "v", "type": "quantitative"}}},
    {"data": {"values": [{"tick":0,"lbl":"0"},{"tick":0.4,"lbl":"0.4"},{"tick":0.8,"lbl":"0.8"}]}, "mark": {"type": "text", "align": "right", "baseline": "middle", "dx": -5, "fontSize": 18, "font": "Liberation Sans", "color": "#231f20"},
     "encoding": {"x": {"datum": 3.5, "type": "quantitative"}, "y": {"field": "tick", "type": "quantitative"}, "text": {"field": "lbl", "type": "nominal"}}},
    {"data": {"values": [{}]}, "mark": {"type": "text", "text": "Total gas", "align": "left", "baseline": "middle", "fontSize": 18, "font": "Liberation Sans", "color": "#ed1c24"},
     "encoding": {"x": {"datum": 4.94, "type": "quantitative"}, "y": {"datum": 0.973, "type": "quantitative"}}},
    {"data": {"values": [{}]}, "mark": {"type": "text", "text": "GIM6", "align": "left", "baseline": "middle", "fontSize": 18, "font": "Liberation Sans", "color": "#2e3192"},
     "encoding": {"x": {"datum": 9.61, "type": "quantitative"}, "y": {"datum": 0.295, "type": "quantitative"}}}
   ]
  },
  {
   "width": 460, "height": 112,
   "layer": [
    {"data": {"name": "da"}, "mark": {"type": "area", "color": "#ed1c24", "opacity": 1},
     "encoding": {
      "x": {"field": "t", "type": "quantitative", "scale": {"domain": [3.5, 14.5], "nice": false, "zero": false}, "axis": {"title": null, "labels": false, "values": [4,6,8,10,12,14], "tickSize": -9}},
      "y": {"field": "hi", "type": "quantitative", "scale": {"domain": [-0.004, 1.327], "nice": false, "zero": false}, "axis": {"title": "(a.u.)", "values": [0.2,0.4,0.6,0.8,1.0,1.2], "labels": false, "tickSize": {"condition": {"test": "round(datum.value*10) % 4 != 0", "value": -5}, "value": -10}, "titleX": -38}},
      "y2": {"field": "lo"}}},
    {"data": {"name": "da"}, "mark": {"type": "line", "color": "#ed1c24", "strokeWidth": 1.1},
     "encoding": {"x": {"field": "t", "type": "quantitative"}, "y": {"field": "hi", "type": "quantitative"}}},
    {"data": {"values": [{"tick":0.4,"lbl":"0.4"},{"tick":0.8,"lbl":"0.8"},{"tick":1.2,"lbl":"1.2"}]}, "mark": {"type": "text", "align": "right", "baseline": "middle", "dx": -5, "fontSize": 18, "font": "Liberation Sans", "color": "#231f20"},
     "encoding": {"x": {"datum": 3.5, "type": "quantitative"}, "y": {"field": "tick", "type": "quantitative"}, "text": {"field": "lbl", "type": "nominal"}}},
    {"data": {"values": [{}]}, "mark": {"type": "text", "text": "D", "align": "left", "baseline": "middle", "fontSize": 18, "font": "Liberation Sans", "color": "#231f20"},
     "encoding": {"x": {"datum": 3.85, "type": "quantitative"}, "y": {"datum": 1.125, "type": "quantitative"}}},
    {"data": {"values": [{}]}, "mark": {"type": "text", "text": "α", "align": "left", "baseline": "middle", "fontSize": 14, "font": "Liberation Sans", "color": "#231f20"},
     "encoding": {"x": {"datum": 4.19, "type": "quantitative"}, "y": {"datum": 1.07, "type": "quantitative"}}}
   ]
  },
  {
   "width": 460, "height": 116,
   "layer": [
    {"data": {"name": "rog"}, "mark": {"type": "line", "color": "#ed1c24", "strokeWidth": 1.4},
     "encoding": {
      "x": {"field": "t", "type": "quantitative", "scale": {"domain": [3.5, 14.5], "nice": false, "zero": false}, "axis": {"title": null, "labels": false, "values": [4,6,8,10,12,14], "tickSize": -9}},
      "y": {"field": "v", "type": "quantitative", "scale": {"domain": [-4.29, 16.18], "nice": false, "zero": false}, "axis": {"title": "(cm)", "values": [0,5,10,15], "labels": false, "tickSize": -10, "titleX": -38}}}},
    {"data": {"name": "lpos"}, "mark": {"type": "line", "color": "#2e3192", "strokeWidth": 1.6, "strokeDash": [7, 4]},
     "encoding": {"x": {"field": "t", "type": "quantitative"}, "y": {"field": "v", "type": "quantitative"}}},
    {"data": {"values": [{"tick":0,"lbl":"0"},{"tick":5,"lbl":"5"},{"tick":10,"lbl":"10"},{"tick":15,"lbl":"15"}]}, "mark": {"type": "text", "align": "right", "baseline": "middle", "dx": -5, "fontSize": 18, "font": "Liberation Sans", "color": "#231f20"},
     "encoding": {"x": {"datum": 3.5, "type": "quantitative"}, "y": {"field": "tick", "type": "quantitative"}, "text": {"field": "lbl", "type": "nominal"}}},
    {"data": {"values": [{}]}, "mark": {"type": "text", "text": "ROG", "align": "left", "baseline": "middle", "fontSize": 18, "font": "Liberation Sans", "color": "#ed1c24"},
     "encoding": {"x": {"datum": 4.09, "type": "quantitative"}, "y": {"datum": 12.0, "type": "quantitative"}}},
    {"data": {"values": [{}]}, "mark": {"type": "text", "text": "LPOS", "align": "left", "baseline": "middle", "fontSize": 18, "font": "Liberation Sans", "color": "#2e3192"},
     "encoding": {"x": {"datum": 10.34, "type": "quantitative"}, "y": {"datum": 0.0, "type": "quantitative"}}}
   ]
  },
  {
   "width": 460, "height": 100,
   "layer": [
    {"data": {"name": "refl"}, "mark": {"type": "line", "color": "#ed1c24", "strokeWidth": 1.4},
     "encoding": {
      "x": {"field": "t", "type": "quantitative", "scale": {"domain": [3.5, 14.5], "nice": false, "zero": false}, "axis": {"title": "Time (s)", "values": [4,6,8,10,12,14], "tickSize": -9, "labelPadding": 14, "titlePadding": 6}},
      "y": {"field": "v", "type": "quantitative", "scale": {"domain": [-0.5, 9.42], "nice": false, "zero": false}, "axis": {"title": "(%)", "values": [0,2,4,6,8], "labels": false, "tickSize": -10, "titleX": -38}}}},
    {"data": {"values": [{"tick":0,"lbl":"0"},{"tick":2,"lbl":"2"},{"tick":4,"lbl":"4"},{"tick":6,"lbl":"6"},{"tick":8,"lbl":"8"}]}, "mark": {"type": "text", "align": "right", "baseline": "middle", "dx": -5, "fontSize": 18, "font": "Liberation Sans", "color": "#231f20"},
     "encoding": {"x": {"datum": 3.5, "type": "quantitative"}, "y": {"field": "tick", "type": "quantitative"}, "text": {"field": "lbl", "type": "nominal"}}},
    {"data": {"values": [{}]}, "mark": {"type": "text", "text": "Average reflection coefficient", "align": "right", "baseline": "middle", "fontSize": 18, "font": "Liberation Sans", "color": "#231f20"},
     "encoding": {"x": {"datum": 14.35, "type": "quantitative"}, "y": {"datum": 8.29, "type": "quantitative"}}}
   ]
  }
 ],
 "config": {
  "font": "Liberation Sans",
  "view": {"stroke": "#7a7a7a", "strokeWidth": 1.3},
  "axis": {"domain": false, "grid": false, "labelFont": "Liberation Sans", "titleFont": "Liberation Sans", "labelFontSize": 18, "titleFontSize": 18, "titleFontWeight": "normal", "labelColor": "#231f20", "titleColor": "#231f20", "tickColor": "#555555", "tickWidth": 1.3}
 }
}
